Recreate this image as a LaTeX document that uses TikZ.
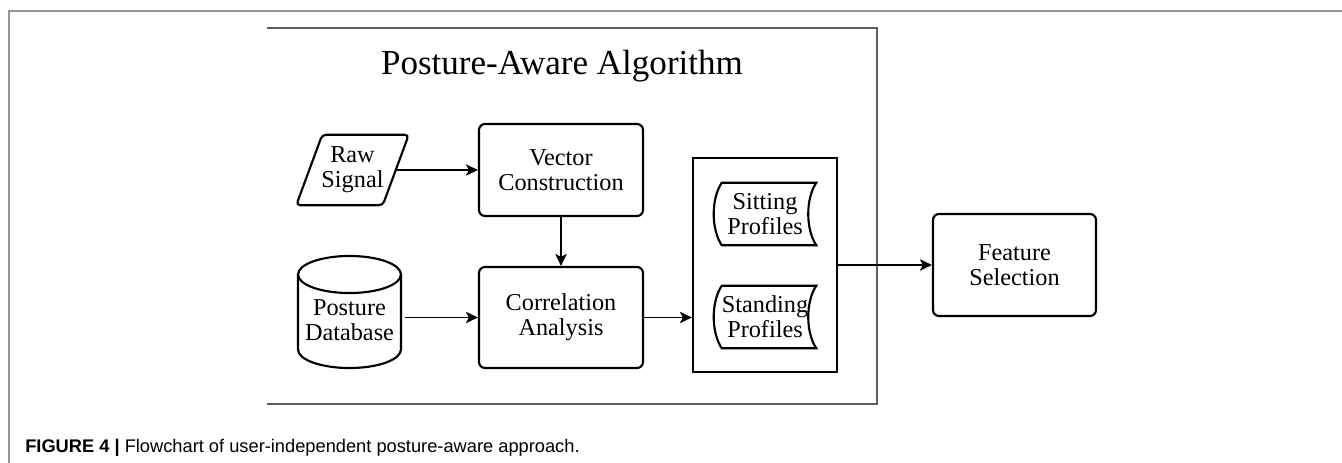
\documentclass[tikz,border=0pt]{standalone}
\usepackage{fontspec}
\setmainfont{Liberation Serif}
\newfontfamily\capfont{Liberation Sans}
\usetikzlibrary{arrows.meta,calc}
\definecolor{outergray}{RGB}{150,150,150}
\definecolor{algogray}{RGB}{95,95,95}
\begin{document}
\begin{tikzpicture}[x=0.75pt,y=-0.75pt,
  shapeline/.style={draw=black, line width=1.6pt},
  proc/.style={shapeline, rounded corners=4.5pt, align=center, inner sep=0pt,
    font=\fontsize{18.2}{18.75}\selectfont},
  txt/.style={align=center, inner sep=0pt, font=\fontsize{18.2}{18.75}\selectfont},
  arrow/.style={draw=black, line width=1.4pt, -{Stealth[length=9pt,width=8.5pt,inset=2.2pt]}}
]
\useasboundingbox (0,0) rectangle (1342,463);
% page frame
\draw[outergray, line width=1.1pt] (9,463) -- (9,11) -- (1342,11);
% algorithm frame (no left edge)
\draw[algogray, line width=1.2pt] (267,28) -- (877,28) -- (877,404) -- (267,404);
\node[anchor=base, font=\fontsize{26.3}{30}\selectfont] (title) at (562,75) {Posture-Aware Algorithm};

% Raw Signal (parallelogram)
\node[txt, minimum width=64.5pt, minimum height=52.5pt] (raw) at (352.5,170) {Raw\\Signal};
\draw[shapeline, rounded corners=3pt]
  ($(raw.north west)+(13,0)$) -- ($(raw.north east)+(13,0)$) --
  ($(raw.south east)+(-13,0)$) -- ($(raw.south west)+(-13,0)$) -- cycle;

% Posture Database (cylinder)
\node[txt, minimum width=77.25pt] (db) at (349.5,320) {Posture\\Database};
\draw[shapeline] ($(db.center)+(0,-45.5)$) ellipse [x radius=38.6pt, y radius=13.9pt];
\draw[shapeline] ($(db.center)+(-51.5,-45.5)$) -- ($(db.center)+(-51.5,29.5)$)
  arc [start angle=180, end angle=360, x radius=38.6pt, y radius=13.9pt]
  -- ($(db.center)+(51.5,-45.5)$);

% process boxes
\node[proc, minimum width=123pt, minimum height=69pt] (vec) at (561,170) {Vector\\Construction};
\node[proc, minimum width=123pt, minimum height=75.75pt] (corr) at (561,317.5) {Correlation\\Analysis};
\node[proc, minimum width=122.25pt, minimum height=76.5pt] (feat) at (1014.5,265) {Feature\\Selection};

% profiles container
\node[shapeline, minimum width=108pt, minimum height=160.5pt, inner sep=0pt] (cont) at (765,265) {};

% stored-data shapes
\node[txt, minimum width=76.5pt, minimum height=46.5pt] (sit) at (765,214) {Sitting\\Profiles};
\node[txt, minimum width=76.5pt, minimum height=46.5pt] (stand) at (765,317) {Standing\\Profiles};
\foreach \n in {sit,stand}{
  \draw[shapeline]
    ($(\n.north west)+(8,0)$) -- (\n.north east)
    .. controls ($(\n.north east)+(-10.7,16)$) and ($(\n.south east)+(-10.7,-16)$) .. (\n.south east)
    -- ($(\n.south west)+(8,0)$)
    .. controls ($(\n.south west)+(-2.7,-16)$) and ($(\n.north west)+(-2.7,16)$) .. ($(\n.north west)+(8,0)$) -- cycle;
}

% connectors
\draw[arrow] (raw.east) -- (vec.west);
\draw[arrow] (vec.south) -- (corr.north);
\draw[arrow] ([xshift=3pt]db.east |- corr.west) -- (corr.west);
\draw[arrow] (corr.east) -- (corr.east -| cont.west);
\draw[arrow] (cont.east) -- (feat.west);

% caption
\node[anchor=base west, inner sep=0pt, font=\capfont\fontsize{13.7}{16}\selectfont] (cap) at (25,452)
  {\textbf{FIGURE 4 |} Flowchart of user-independent posture-aware approach.};
\end{tikzpicture}
\end{document}
